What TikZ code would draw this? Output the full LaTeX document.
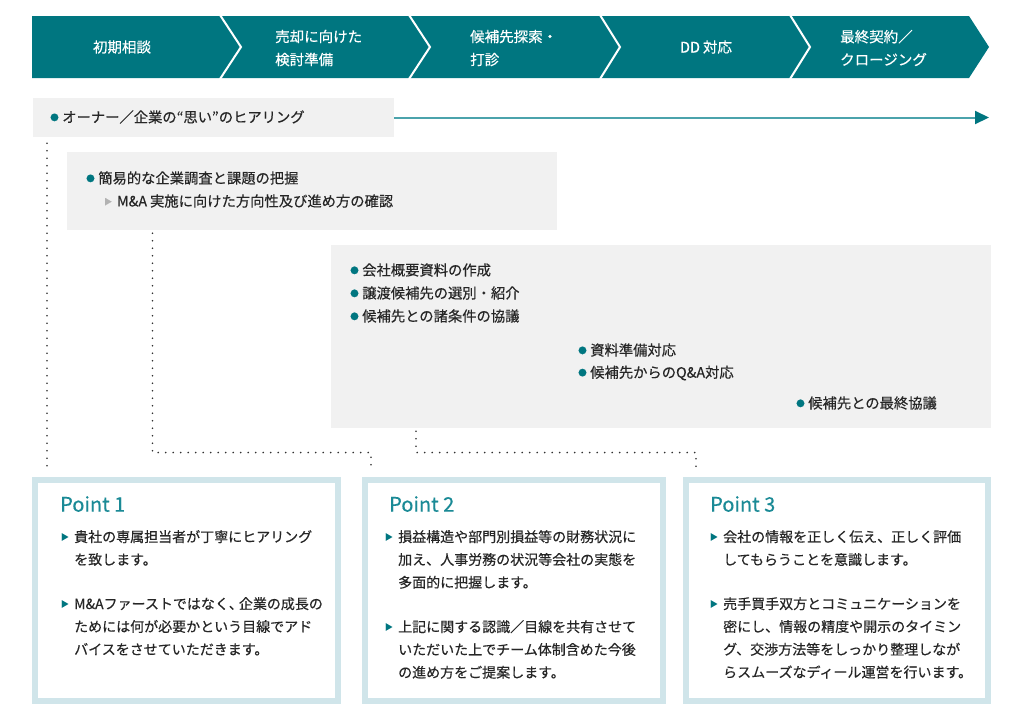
\documentclass[tikz,border=0pt]{standalone}
\usepackage{fontspec}
\setmainfont{Noto Sans CJK JP}[RawFeature={embolden=0.35}]
\usetikzlibrary{arrows.meta,calc}
\definecolor{mteal}{RGB}{0,118,128}
\definecolor{lteal}{RGB}{75,163,172}
\definecolor{ptitlec}{RGB}{26,138,150}
\definecolor{gboxc}{RGB}{241,241,241}
\definecolor{pborder}{RGB}{208,229,234}
\definecolor{txtc}{RGB}{38,38,38}
\definecolor{dotc}{RGB}{50,50,50}
\newcommand\bdot{{\color{mteal}\raisebox{1.8pt}{\scalebox{0.6}{●}}}\hspace{3.5pt}}
\newcommand\gtri{{\color{black!30}\raisebox{1.8pt}{\scalebox{0.55}{▶}}}\hspace{5pt}}
\tikzset{
  stage/.style={text=white, font=\fontsize{14.5}{23}\selectfont, align=left, inner sep=0pt},
  gb/.style={fill=gboxc, draw=none, inner sep=0pt, rectangle},
  btxt/.style={text=txtc, font=\fontsize{14.3}{22.8}\selectfont, inner sep=0pt, anchor=west},
  pbox/.style={draw=pborder, fill=white, line width=6pt, inner sep=0pt, rectangle, minimum height=221pt},
  ptitle/.style={text=ptitlec, font=\fontsize{20}{24}\selectfont, inner sep=0pt, anchor=west},
  ptxt/.style={text=txtc, font=\fontsize{14}{22.8}\selectfont, inner sep=0pt, align=left, anchor=base west},
  ptri/.style={text=mteal, font=\fontsize{8}{8}\selectfont, inner sep=0pt, anchor=base east},
  dotl/.style={dotc, line width=1.9pt, line cap=round, dash pattern=on 0pt off 7.5pt},
}
\begin{document}
\begin{tikzpicture}[x=1pt,y=-1pt]
\fill[white] (0,0) rectangle (1024,724);
\useasboundingbox (0,0) rectangle (1024,724);
% process bar
\fill[mteal] (32,16) -- (969,16) -- (989,47) -- (969,78) -- (32,78) -- cycle;
\foreach \x/\t in {220/241,409/430,600/620,790/810}
  \draw[white, line width=2pt] (\x,15) -- (\t,47) -- (\x,79);
\node[stage] (s1) at (122,47) {初期相談};
\node[stage, anchor=west] (s2) at (275,48) {売却に向けた\\検討準備};
\node[stage, anchor=west] (s3) at (470,48) {候補先探索・\\打診};
\node[stage] (s4) at (706,47) {DD\hspace{3pt}対応};
\node[stage, anchor=west] (s5) at (840,48) {最終契約／\\クロージング};
% rows
\node[gb, minimum width=361pt, minimum height=39pt] (r1) at (213.5,117.5) {};
\node[gb, minimum width=490pt, minimum height=78pt] (r2) at (312,191) {};
\node[gb, minimum width=660pt, minimum height=183pt] (r3) at (661,336.5) {};
\coordinate (aend) at (989,117.5);
\draw[lteal, line width=2pt, -{Triangle[length=14pt,width=13pt,color=mteal]}] (r1.east) -- (aend);
\node[btxt] (t1) at (50,117) {\bdot オーナー／企業の“思い”のヒアリング};
\node[btxt] (t2) at (86,178) {\bdot 簡易的な企業調査と課題の把握};
\node[btxt] (t2b) at (104,201) {\gtri M\&A\hspace{3pt}実施に向けた方向性及び進め方の確認};
\node[btxt] (t3a) at (350,270) {\bdot 会社概要資料の作成};
\node[btxt] (t3b) at (350,293) {\bdot 譲渡候補先の選別・紹介};
\node[btxt] (t3c) at (350,316) {\bdot 候補先との諸条件の協議};
\node[btxt] (t3d) at (578,350) {\bdot 資料準備対応};
\node[btxt] (t3e) at (578,373) {\bdot 候補先からのQ\&A対応};
\node[btxt] (t3f) at (796,403) {\bdot 候補先との最終協議};
% point boxes
\node[pbox, minimum width=303pt] (P1) at (186.5,590.5) {};
\node[pbox, minimum width=298pt] (P2) at (514,590.5) {};
\node[pbox, minimum width=302pt] (P3) at (837,590.5) {};
\node[ptitle] (P1t) at (60,504) {Point 1};
\node[ptitle] (P2t) at (389,504) {Point 2};
\node[ptitle] (P3t) at (710,504) {Point 3};
% base anchor = baseline of the last line
\node[ptxt] (P1a) at (74,564.8) {貴社の専属担当者が丁寧にヒアリング\\を致します。};
\node[ptxt] (P1b) at (74,654.6) {M\&Aファーストではなく、\kern-4pt 企業の成長の\\ためには何が必要かという目線でアド\\バイスをさせていただきます。};
\node[ptxt] (P2a) at (398,587.6) {損益構造や部門別損益等の財務状況に\\加え、人事労務の状況等会社の実態を\\多面的に把握します。};
\node[ptxt] (P2b) at (398,677.6) {上記に関する認識／目線を共有させて\\いただいた上でチーム体制含めた今後\\の進め方をご提案します。};
\node[ptxt] (P3a) at (723,564.8) {会社の情報を正しく伝え、正しく評価\\してもらうことを意識します。};
\node[ptxt] (P3b) at (723,677.4) {売手買手双方とコミュニケーションを\\密にし、情報の精度や開示のタイミン\\グ、交渉方法等をしっかり整理しなが\\らスムーズなディール運営を行います。};
\foreach \p/\n in {P1a/1,P1b/2,P2a/2,P2b/2,P3a/1,P3b/3}
  \node[ptri] (tri\p) at ($(\p.base west)+(-5,-2-22.8*\n)$) {▶};
% dotted connectors
\coordinate (A) at (47,300);
\coordinate (B) at (152.5,452.5);
\coordinate (B2) at (371,452.5);
\coordinate (C) at (416,452.5);
\coordinate (C2) at (696,452.5);
\draw[dotl] ($(r1.south -| A)+(0,6)$) -- ($(P1.north -| A)+(0,-7)$);
\draw[dotl] ($(r2.south -| B)+(0,3)$) -- (B) -- (B2) -- ($(P2.north -| B2)+(0,-7)$);
\draw[dotl] ($(r3.south -| C)+(0,3)$) -- (C) -- (C2) -- ($(P3.north -| C2)+(0,-7)$);
\end{tikzpicture}
\end{document}
